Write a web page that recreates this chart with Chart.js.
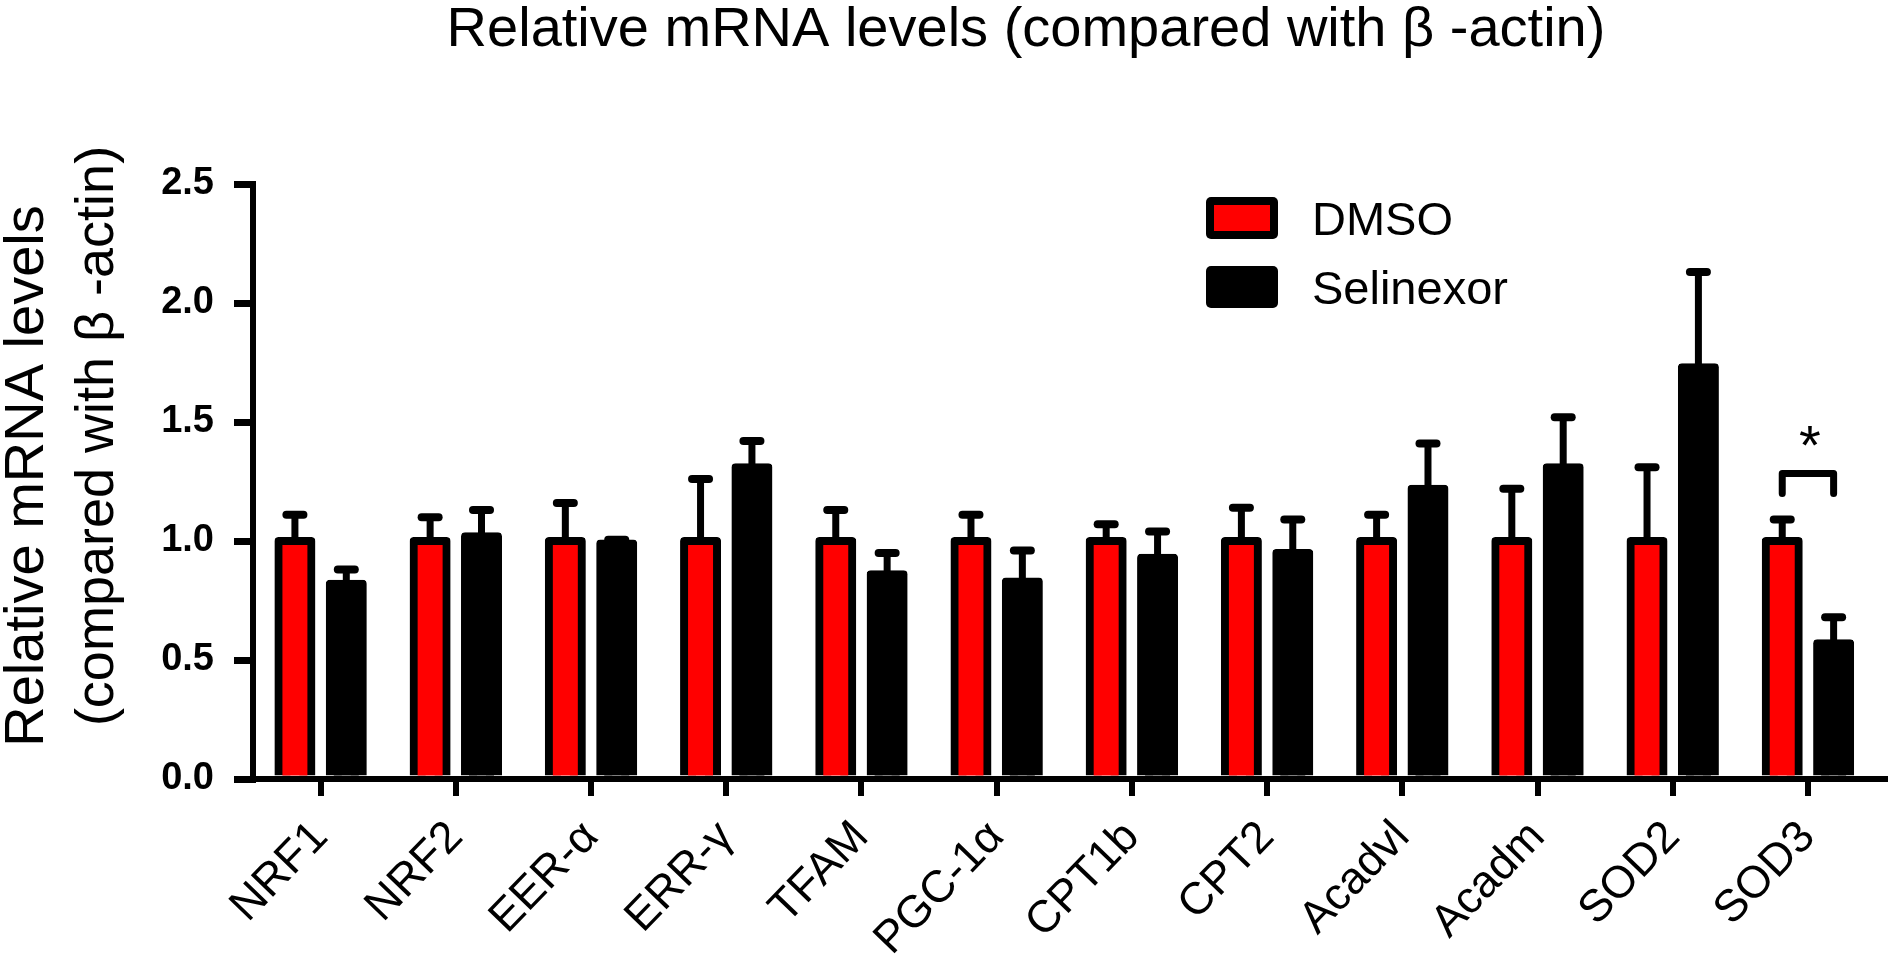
<!DOCTYPE html>
<html>
<head>
<meta charset="utf-8">
<title>Relative mRNA levels</title>
<script src="https://cdn.jsdelivr.net/npm/chart.js@4.4.1/dist/chart.umd.min.js"></script>
<style>
  html, body { margin: 0; padding: 0; background: #fff; }
</style>
</head>
<body>
<canvas id="mrnaChart" width="1890" height="960"></canvas>
<script>
// Datos
const genes = ["NRF1", "NRF2", "EER-α", "ERR-γ", "TFAM", "PGC-1α", "CPT1b", "CPT2", "Acadvl", "Acadm", "SOD2", "SOD3"];
const dmso = [1.0, 1.0, 1.0, 1.0, 1.0, 1.0, 1.0, 1.0, 1.0, 1.0, 1.0, 1.0];
const dmsoErr = [0.11, 0.10, 0.16, 0.26, 0.13, 0.11, 0.07, 0.14, 0.11, 0.22, 0.31, 0.09];
const selinexor = [0.82, 1.02, 0.99, 1.31, 0.86, 0.83, 0.93, 0.95, 1.22, 1.31, 1.73, 0.57];
const selinexorErr = [0.06, 0.11, 0.015, 0.11, 0.09, 0.13, 0.11, 0.14, 0.19, 0.21, 0.40, 0.11];
const yTicks = [0, 0.5, 1.0, 1.5, 2.0, 2.5];

const FONT = "'Liberation Sans', Arial, sans-serif";

// Barras de error (solo hacia arriba, con tope redondeado)
const errorBars = {
  id: "errorBars",
  afterDatasetsDraw(chart) {
    const { ctx } = chart;
    const y = chart.scales.y;
    ctx.save();
    ctx.strokeStyle = "#000";
    chart.data.datasets.forEach((ds, d) => {
      chart.getDatasetMeta(d).data.forEach((bar, i) => {
        const top = y.getPixelForValue(ds.data[i].y + ds.errors[i]);
        ctx.lineCap = "butt";
        ctx.lineWidth = 7;
        ctx.beginPath();
        ctx.moveTo(bar.x, bar.y);
        ctx.lineTo(bar.x, top);
        ctx.stroke();
        ctx.lineCap = "round";
        ctx.lineWidth = 8;
        ctx.beginPath();
        ctx.moveTo(bar.x - 8.5, top);
        ctx.lineTo(bar.x + 8.5, top);
        ctx.stroke();
      });
    });
    ctx.restore();
  }
};

// Título, título del eje Y, leyenda y marca de significancia
const extras = {
  id: "extras",
  afterDraw(chart) {
    const { ctx } = chart;
    const y = chart.scales.y;
    ctx.save();
    ctx.fillStyle = "#000";

    // título superior
    ctx.font = "56px " + FONT;
    ctx.textAlign = "center";
    ctx.textBaseline = "alphabetic";
    ctx.fillText("Relative mRNA levels (compared with β -actin)", 1026, 46);

    // título del eje Y en dos líneas
    ctx.save();
    ctx.translate(43, 476);
    ctx.rotate(-Math.PI / 2);
    ctx.font = "56px " + FONT;
    ctx.fillText("Relative mRNA levels", 0, 0);
    ctx.restore();
    ctx.save();
    ctx.translate(113, 436);
    ctx.rotate(-Math.PI / 2);
    ctx.font = "54px " + FONT;
    ctx.fillText("(compared with β -actin)", 0, 0);
    ctx.restore();

    // leyenda
    ctx.textAlign = "left";
    ctx.font = "47px " + FONT;
    chart.data.datasets.forEach((ds, d) => {
      const bx = 1206, by = 197 + d * 69, bw = 72, bh = 42;
      ctx.fillStyle = "#000";
      ctx.beginPath();
      ctx.roundRect(bx, by, bw, bh, 5);
      ctx.fill();
      ctx.fillStyle = ds.backgroundColor;
      ctx.fillRect(bx + 8, by + 8, bw - 16, bh - 16);
      ctx.fillStyle = "#000";
      ctx.fillText(ds.label, 1312, by + bh / 2 + 17);
    });

    // corchete y asterisco sobre SOD3
    const last = genes.length - 1;
    const x1 = chart.getDatasetMeta(0).data[last].x;
    const x2 = chart.getDatasetMeta(1).data[last].x;
    const yTop = y.getPixelForValue(1.284);
    const yLeg = y.getPixelForValue(1.2);
    ctx.strokeStyle = "#000";
    ctx.lineWidth = 7;
    ctx.lineCap = "round";
    ctx.lineJoin = "round";
    ctx.beginPath();
    ctx.moveTo(x1, yLeg);
    ctx.lineTo(x1, yTop);
    ctx.lineTo(x2, yTop);
    ctx.lineTo(x2, yLeg);
    ctx.stroke();
    ctx.font = "56px " + FONT;
    ctx.textAlign = "center";
    ctx.fillText("*", (x1 + x2) / 2 + 2, y.getPixelForValue(1.46) + 32);

    ctx.restore();
  }
};

const barStyle = {
  borderColor: "#000",
  borderWidth: 8,
  borderSkipped: "start",
  borderRadius: 4,
  inflateAmount: 4,
  categoryPercentage: 0.76,
  barPercentage: 0.642
};

const ctx = document.getElementById("mrnaChart").getContext("2d");

const chart = new Chart(ctx, {
  type: "bar",
  data: {
    datasets: [
      Object.assign({
        label: "DMSO",
        data: dmso.map((v, i) => ({ x: i, y: v })),
        errors: dmsoErr,
        backgroundColor: "#ff0000"
      }, barStyle),
      Object.assign({
        label: "Selinexor",
        data: selinexor.map((v, i) => ({ x: i, y: v })),
        errors: selinexorErr,
        backgroundColor: "#000000"
      }, barStyle)
    ]
  },
  options: {
    responsive: false,
    devicePixelRatio: 1,
    animation: false,
    layout: { padding: { left: 0, right: 5, top: 184, bottom: 0 } },
    plugins: {
      legend: { display: false },
      title: { display: false },
      tooltip: { enabled: false }
    },
    scales: {
      x: {
        type: "linear",
        min: -0.5,
        max: 11.57,
        offset: false,
        grid: { offset: false, drawOnChartArea: false, drawTicks: true, tickLength: 17, lineWidth: 6, color: "#000" },
        border: { color: "#000", width: 6 },
        afterBuildTicks: (scale) => { scale.ticks = genes.map((g, i) => ({ value: i })); },
        afterFit: (scale) => { scale.height = 181; },
        ticks: {
          autoSkip: false,
          maxRotation: 46,
          minRotation: 46,
          padding: 15,
          color: "#000",
          font: { family: FONT, size: 45 },
          callback: (v) => genes[v]
        }
      },
      y: {
        min: 0,
        max: 2.5,
        grid: { drawOnChartArea: false, drawTicks: true, tickLength: 19, lineWidth: 7, color: "#000" },
        border: { color: "#000", width: 6 },
        afterBuildTicks: (scale) => { scale.ticks = yTicks.map((v) => ({ value: v })); },
        afterFit: (scale) => { scale.width = 253; },
        ticks: {
          padding: 20,
          color: "#000",
          font: { family: FONT, weight: "bold", size: 38 },
          callback: (v) => v.toFixed(1)
        }
      }
    }
  },
  plugins: [errorBars, extras]
});
</script>
</body>
</html>
